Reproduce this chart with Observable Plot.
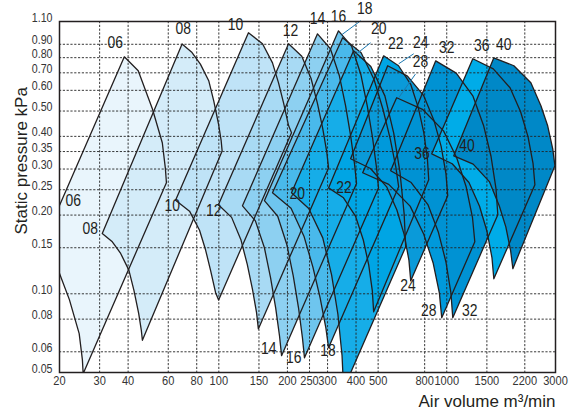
<!DOCTYPE html>
<html><head><meta charset="utf-8">
<script src="https://cdn.jsdelivr.net/npm/d3@7"></script>
<script src="https://cdn.jsdelivr.net/npm/@observablehq/plot@0.6"></script>
<style>body{margin:0;background:#fff}</style>
</head><body><div id="chart"></div>
<script>
const xTicks = [20,30,40,60,80,100,150,200,250,300,400,500,800,1000,1500,2200,3000];
const yTicks = [0.05,0.06,0.08,0.10,0.15,0.20,0.25,0.30,0.35,0.40,0.50,0.60,0.70,0.80,0.90,1.10];
const fanNames = ["06","08","10","12","14","16","18","20","22","24","28","32","36","40"];
const fanColors = ["#e9f5fc","#d4ecf9","#bfe3f7","#a8daf4","#8dd0f1","#6ec5ee","#49b9eb","#16ade8","#00a5e4","#0a9ad9","#0099db","#0092d3","#00ace8","#0088c7"];

// max-speed curve (peak -> max flow), min-speed curve (min flow -> max flow)
const max06 = [[38.5,0.806],[44.3,0.713],[51.1,0.510],[56.5,0.378],[58.3,0.301],[58.9,0.266]];
const min06 = [[16.6,0.150],[19.1,0.133],[22.1,0.095],[24.4,0.0704],[25.2,0.056],[25.4,0.0495]];
const max08 = [[69.0,0.902],[76.3,0.837],[83.0,0.756],[90.3,0.653],[95.0,0.547],[99.7,0.446],[102.4,0.385],[103.4,0.352]];
const min08 = [[30.8,0.170],[34.1,0.158],[37.1,0.1426],[40.3,0.1232],[42.4,0.1032],[44.5,0.0842],[45.7,0.0726],[46.2,0.0664]];
const max10 = [[134.9,0.996],[155.5,0.904],[172,0.764],[182.8,0.641],[192.2,0.538],[202.3,0.44],[208.4,0.413]];
const min10 = [[64.6,0.228],[74.4,0.207],[82.3,0.175],[87.5,0.147],[92.0,0.123],[96.8,0.101],[99.8,0.0946]];
const max12 = [[202.3,0.904],[231.2,0.810],[253.9,0.666],[270.8,0.535],[285.5,0.430],[297.4,0.350],[303,0.303]];
const min12 = [[99.6,0.219],[113.8,0.196],[125,0.161],[133.3,0.1295],[140.5,0.104],[146.4,0.0847],[149.1,0.0734]];
const max14 = [[271,0.987],[308.6,0.865],[338,0.682],[359.8,0.524],[378.8,0.402],[394,0.313],[402,0.264]];
const min14 = [[127,0.217],[144.7,0.190],[158.5,0.150],[168.7,0.115],[177.6,0.0884],[184.7,0.0688],[188.5,0.058]];
const max16 = [[335,1.013],[383,0.883],[420.2,0.688],[448.2,0.522],[472.5,0.396],[491.8,0.304],[502,0.254]];
const min16 = [[158.5,0.227],[181.3,0.198],[198.9,0.154],[212.1,0.117],[223.6,0.0886],[232.7,0.068],[237.6,0.0569]];
const max18 = [[349.2,0.953],[421.1,0.836],[479.7,0.660],[525.0,0.508],[565.3,0.3905],[598.3,0.3043],[615.3,0.2566]];
const min18 = [[172.0,0.2434],[207.4,0.2123],[236.3,0.1661],[258.7,0.1264],[278.4,0.0962],[294.7,0.0743],[303.0,0.0622]];
const max20 = [[390.2,0.850],[464.5,0.740],[535.3,0.5715],[585.3,0.4116],[623.5,0.2914],[650.1,0.2028],[660.5,0.1513]];
const min20 = [[208.4,0.2434],[248.0,0.212],[285.8,0.1636],[312.6,0.1179],[333.0,0.0835],[347.2,0.0581],[352.7,0.0433]];
const max22 = [[528.6,0.813],[614.3,0.745],[694.8,0.6327],[750.6,0.514],[793.0,0.4132],[822.4,0.3285],[833.6,0.2729]];
const min22 = [[303.0,0.2541],[352.3,0.2329],[398.3,0.1976],[430.4,0.1606],[454.6,0.1291],[471.5,0.1026],[477.9,0.0853]];
const max24 = [[550.5,0.745],[672.7,0.6796],[792.5,0.5724],[878.8,0.4605],[944.9,0.3664],[992.0,0.288],[1010,0.2371]];
const min24 = [[378.6,0.3285],[462.8,0.3014],[545.0,0.2565],[604.3,0.2091],[650.2,0.1688],[682.3,0.1346],[695.0,0.1121]];
const max28 = [[603.0,0.5619],[782.4,0.5077],[968.3,0.4198],[1107.6,0.3299],[1217.4,0.256],[1296.6,0.1962],[1327.8,0.1581]];
const min28 = [[427.6,0.2903],[556.6,0.2621],[690.6,0.2164],[791.0,0.1698],[870.9,0.1315],[928.4,0.1006],[950.6,0.081]];
const max32 = [[894.6,0.778],[1100.7,0.6982],[1303.6,0.5697],[1450.4,0.4403],[1563.7,0.3357],[1644.3,0.2525],[1675.3,0.2006]];
const min32 = [[567.5,0.2955],[698.2,0.2664],[826.5,0.2194],[919.8,0.1715],[992.0,0.1323],[1042.8,0.1009],[1062.7,0.081]];
const max36 = [[1301.4,0.7922],[1600.4,0.7249],[1895.2,0.6138],[2108.6,0.4970],[2273.5,0.3982],[2390.6,0.3155],[2436.3,0.2612]];
const min36 = [[859.3,0.3431],[1056.7,0.3143],[1251.7,0.2664],[1392.6,0.2161],[1501.5,0.1734],[1578.8,0.1376],[1608.9,0.1141]];
const max40 = [[1609,0.799],[1970,0.745],[2339,0.641],[2589,0.524],[2772,0.439],[2916,0.359],[2983,0.309]];
const min40 = [[1073.6,0.337],[1305.9,0.3132],[1541.0,0.2678],[1700.5,0.2167],[1816.3,0.1803],[1907.1,0.1459],[1950,0.1247]];

const topLabels = ["06","08","10","12","14","16","18","20","22","24","28","32","36","40"];
const topLabelX = [35.1,69.9,118.3,206.4,271.2,335.4,436.3,502.7,597,768.9,766.5,1000,1425,1780];
const topLabelY = [0.873,0.987,1.023,0.970,1.078,1.097,1.17,0.987,0.865,0.873,0.738,0.835,0.850,0.857];
const innerLabels = ["06","08","10","12","20","22","36","40","14","16","18","24","28","32"];
const innerLabelX = [23.0,27.3,62.4,95.0,220.8,353.9,779,1228,165.7,213.4,301,676,834,1262];
const innerLabelY = [0.217,0.170,0.2077,0.1988,0.2303,0.244,0.3275,0.352,0.0588,0.0546,0.058,0.1027,0.0824,0.0824];
const leaderX1 = [345.7,402.4,615.3,615.3];
const leaderY1 = [0.978,0.828,0.758,0.562];
const leaderX2 = [419,463.4,716.4,728.8];
const leaderY2 = [1.107,0.912,0.828,0.692];

const maxCurves = [max06,max08,max10,max12,max14,max16,max18,max20,max22,max24,max28,max32,max36,max40];
const minCurves = [min06,min08,min10,min12,min14,min16,min18,min20,min22,min24,min28,min32,min36,min40];
const polys = maxCurves.map((m, i) => m.concat(minCurves[i].slice().reverse()));
const leaders = leaderX1.map((x, i) => ({x1: x, y1: leaderY1[i], x2: leaderX2[i], y2: leaderY2[i]}));

const font = "'Liberation Sans',Arial,sans-serif";
const TICK = "#343434", LAB = "#231f21";
const fills = polys.map((p, i) => Plot.line(p, {x: d => d[0], y: d => d[1], fill: fanColors[i], stroke: "none", curve: "linear-closed", clip: true}));
const strokes = polys.map(p => Plot.line(p, {x: d => d[0], y: d => d[1], stroke: "#231f20", strokeWidth: 1.3, curve: "linear-closed", clip: true}));

const chart = Plot.plot({
  width: 578, height: 412,
  marginLeft: 59, marginRight: 23, marginTop: 21, marginBottom: 40,
  style: {fontFamily: font, fontSize: "13px", color: "#333", background: "#fff"},
  x: {type: "log", domain: [20, 3000], axis: null},
  y: {type: "log", domain: [0.05, 1.1], axis: null},
  marks: [
    ...fills,
    Plot.ruleX(xTicks.slice(1, -1), {stroke: "#222", strokeWidth: 0.9, strokeDasharray: "2.2,1.6"}),
    Plot.ruleY(yTicks.slice(1, -1), {stroke: "#222", strokeWidth: 0.9, strokeDasharray: "2.2,1.6"}),
    ...strokes,
    Plot.link(leaders, {x1: "x1", y1: "y1", x2: "x2", y2: "y2", stroke: "#1c78b0", strokeWidth: 1}),
    Plot.text(topLabels, {x: (d, i) => topLabelX[i], y: (d, i) => topLabelY[i], text: d => d, fontSize: 17, fill: LAB, fontFamily: font}),
    Plot.text(innerLabels, {x: (d, i) => innerLabelX[i], y: (d, i) => innerLabelY[i], text: d => d, fontSize: 17, fill: LAB, fontFamily: font}),
    Plot.frame({stroke: "#231f20", strokeWidth: 1.5}),
    Plot.text(xTicks, {x: d => d, frameAnchor: "bottom", dy: 12, text: d => String(d), fontSize: 13.5, fill: TICK, fontFamily: font}),
    Plot.text(yTicks, {y: d => d, frameAnchor: "left", dx: -7, textAnchor: "end", text: d => d.toFixed(2), fontSize: 13, fill: TICK, fontFamily: font}),
    Plot.text(["Static pressure kPa"], {x: 13.58, y: 0.3226, rotate: -90, fontSize: 17, fill: "#231f20", fontFamily: font}),
    Plot.text(["Air volume m³/min"], {x: 3000, y: 0.0387, textAnchor: "end", fontSize: 17, fill: "#231f20", fontFamily: font})
  ]
});
// condense the narrow-typeface texts horizontally (text stays text)
function condense(fill, s) {
  d3.select(chart).selectAll(`g[fill="${fill}"] text`).each(function() {
    const t = d3.select(this);
    const tr = t.attr("transform") || "";
    const x = +t.attr("x") || 0, y = +t.attr("y") || 0;
    t.attr("x", null).attr("y", null).attr("transform", `${tr} translate(${x},${y}) scale(${s},1)`);
  });
}
condense(TICK, 0.82);
condense(LAB, 0.82);
document.getElementById("chart").appendChild(chart);
</script></body></html>
